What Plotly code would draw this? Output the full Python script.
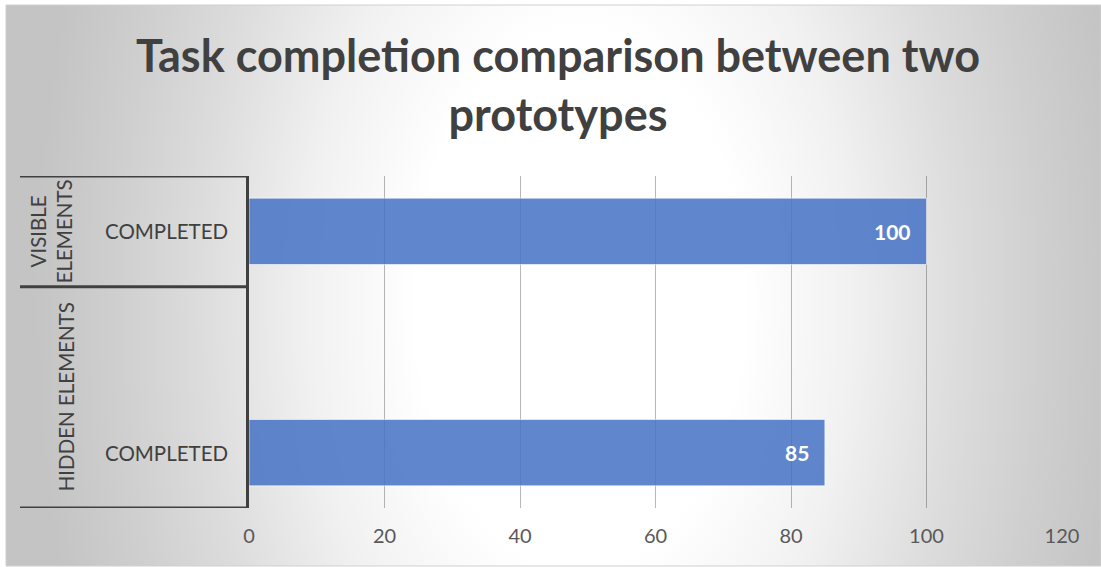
import plotly.graph_objects as go

# ---- data (rows listed top to bottom) ----
group_labels = ["VISIBLE ELEMENTS", "HIDDEN ELEMENTS", "HIDDEN ELEMENTS"]
task_labels = ["COMPLETED", "", "COMPLETED"]
completed = [100, None, 85]
x_ticks = [0, 20, 40, 60, 80, 100, 120]

title_text = "Task completion comparison between two<br>prototypes"

# ---- figure geometry (pixels) ----
W, H = 1101, 567
PLOT_L, PLOT_R = 249, 1062
PLOT_T, PLOT_B = 176, 508
TABLE_L = 20
FONT = "Lato"
DARK = "#404040"
TICK = "#595959"
EDGE_GREY = "#c4c4c4"

n = len(task_labels)
pos = [n - 1 - i for i in range(n)]  # first row drawn at the top

fig = go.Figure()

# grey base of the chart area (own hidden subplot, drawn first)
fig.add_trace(go.Scatter(
    x=[0, W, W, 0, 0], y=[0, 0, H, H, 0],
    mode="lines", fill="toself", fillcolor=EDGE_GREY, line=dict(width=0),
    hoverinfo="skip", showlegend=False, xaxis="x", yaxis="y",
))
# radial white glow on top of it
cx, cy, rx, ry = 580, 300, 545, 900
fig.add_trace(go.Scatter(
    x=[cx - rx, cx + rx, cx + rx, cx - rx, cx - rx],
    y=[cy - ry, cy - ry, cy + ry, cy + ry, cy - ry],
    mode="lines", fill="toself", line=dict(width=0),
    fillgradient=dict(type="radial", colorscale=[
        [0.0, "#ffffff"], [0.3, "#ffffff"], [0.5, "#f1f1f1"],
        [0.7, "#dcdcdc"], [0.85, "#cfcfcf"], [1.0, EDGE_GREY]]),
    hoverinfo="skip", showlegend=False, xaxis="x", yaxis="y",
))

# bars
fig.add_trace(go.Bar(
    x=completed, y=pos, orientation="h", width=0.6,
    marker=dict(color="rgba(68,114,196,0.85)",
                line=dict(color="rgba(255,255,255,0.6)", width=1)),
    hoverinfo="x", showlegend=False, xaxis="x2", yaxis="y2",
))

annotations = []
# title
annotations.append(dict(
    x=558 / W, y=1 - 84 / H, xref="paper", yref="paper", text=f"<b>{title_text}</b>",
    showarrow=False, xanchor="center", yanchor="middle",
    font=dict(family=FONT, size=45, color=DARK)))

# value labels inside bar ends
for v, p in zip(completed, pos):
    if v is None:
        continue
    annotations.append(dict(
        x=v, y=p, xref="x2", yref="y2", text=f"<b>{v}</b>", showarrow=False,
        xanchor="right", xshift=-14, font=dict(family=FONT, size=21, color="white")))

# inner category labels
for t, p in zip(task_labels, pos):
    if t:
        annotations.append(dict(
            x=166 / W, y=p, xref="paper", yref="y2", text=t, showarrow=False,
            xanchor="center", font=dict(family=FONT, size=20.5, color=DARK)))

# outer group labels + table rules
shapes = []
groups = []
for g, p in zip(group_labels, pos):
    if groups and groups[-1][0] == g:
        groups[-1][1].append(p)
    else:
        groups.append((g, [p]))
edges = set()
for g, ps in groups:
    lo, hi = min(ps) - 0.5, max(ps) + 0.5
    edges.update([lo, hi])
    label = g.replace(" ", "<br>") if len(ps) == 1 else g
    annotations.append(dict(
        x=(51 if len(ps) == 1 else 66) / W, y=(lo + hi) / 2, xref="paper", yref="y2",
        text=label, textangle=-90, showarrow=False, xanchor="center", yanchor="middle",
        font=dict(family=FONT, size=20.5, color=DARK)))
for e in sorted(edges):
    shapes.append(dict(type="line", xref="paper", yref="y2",
                       x0=TABLE_L / W, x1=PLOT_L / W, y0=e, y1=e,
                       line=dict(color=DARK, width=3)))

# chart-area border
shapes.append(dict(type="rect", xref="paper", yref="paper",
                   x0=6 / W, x1=1, y0=1 / H, y1=1 - 5 / H,
                   line=dict(color="#d0d0d0", width=1), layer="above"))

fig.update_layout(
    width=W, height=H,
    margin=dict(l=0, r=0, t=0, b=0, pad=0, autoexpand=False),
    paper_bgcolor="white", plot_bgcolor="rgba(0,0,0,0)",
    xaxis=dict(domain=[6 / W, 1], range=[6, W], visible=False, fixedrange=True),
    yaxis=dict(domain=[1 / H, 1 - 5 / H], range=[H - 1, 5], visible=False, fixedrange=True),
    xaxis2=dict(domain=[PLOT_L / W, PLOT_R / W], range=[0, 120], anchor="y2",
                tickvals=x_ticks, ticks="", showgrid=True,
                gridcolor="rgba(0,0,0,0.28)", gridwidth=1, zeroline=False, showline=False,
                ticklabelstandoff=14, automargin=False,
                tickfont=dict(family=FONT, size=20, color=TICK)),
    yaxis2=dict(domain=[1 - PLOT_B / H, 1 - PLOT_T / H], range=[-0.5, n - 0.5], anchor="x2",
                showticklabels=False, ticks="", showgrid=False, zeroline=False,
                showline=True, linewidth=3, linecolor=DARK, automargin=False),
    annotations=annotations, shapes=shapes,
    bargap=0.4,
)

fig.write_html("out.html")
